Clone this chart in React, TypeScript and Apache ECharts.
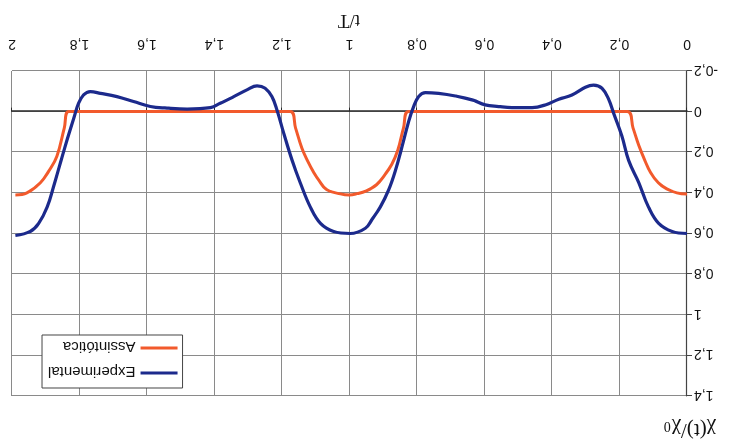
import React, { useEffect, useRef } from "react";
import * as echarts from "echarts";

const xTicks = [0, 0.2, 0.4, 0.6, 0.8, 1, 1.2, 1.4, 1.6, 1.8, 2];
const yTicks = [-0.2, 0, 0.2, 0.4, 0.6, 0.8, 1, 1.2, 1.4];

const expT = [
  0, 0.044, 0.084, 0.114, 0.143, 0.173, 0.193, 0.217, 0.232, 0.252, 0.277, 0.301, 0.341, 0.38, 0.42,
  0.459, 0.519, 0.558, 0.598, 0.637, 0.686, 0.736, 0.775, 0.795, 0.81, 0.825, 0.844, 0.864, 0.884,
  0.909, 0.933, 0.953, 0.998, 1.047, 1.086, 1.116, 1.146, 1.17, 1.195, 1.215, 1.23, 1.25, 1.274,
  1.304, 1.343, 1.383, 1.412, 1.481, 1.541, 1.59, 1.64, 1.689, 1.738, 1.768, 1.788, 1.803, 1.817,
  1.837, 1.857, 1.877, 1.896, 1.921, 1.946, 1.99,
];
const expV = [
  0.6, 0.59, 0.55, 0.47, 0.35, 0.24, 0.12, 0.01, -0.06, -0.115, -0.13, -0.12, -0.082, -0.061, -0.033,
  -0.02, -0.02, -0.025, -0.033, -0.058, -0.077, -0.09, -0.094, -0.074, -0.025, 0.05, 0.17, 0.29, 0.385,
  0.47, 0.53, 0.574, 0.6, 0.59, 0.55, 0.47, 0.35, 0.24, 0.106, -0.008, -0.074, -0.115, -0.127,
  -0.107, -0.074, -0.041, -0.02, -0.012, -0.017, -0.025, -0.05, -0.074, -0.09, -0.098, -0.082, -0.041,
  0.033, 0.14, 0.254, 0.37, 0.47, 0.55, 0.59, 0.61,
];

const asT = [
  0, 0.03, 0.06, 0.085, 0.108, 0.125, 0.143, 0.16, 0.177, 0.825, 0.84, 0.857, 0.875, 0.895, 0.92,
  0.95, 0.98, 1.0, 1.027, 1.067, 1.09, 1.106, 1.125, 1.141, 1.16, 1.175, 1.832, 1.845, 1.867, 1.89,
  1.916, 1.956, 1.99,
];
const asV = [
  0.405, 0.4, 0.38, 0.35, 0.3, 0.24, 0.165, 0.08, 0, 0, 0.08, 0.19, 0.26, 0.31, 0.36,
  0.39, 0.405, 0.41, 0.405, 0.385, 0.34, 0.3, 0.24, 0.18, 0.08, 0, 0, 0.08, 0.22, 0.29,
  0.35, 0.4, 0.41,
];

const seriesNames = ["Experimental", "Assintótica"];
const xName = "t/T";

const fmt = (v: number) => {
  const r = Math.round(v * 10) / 10;
  return String(r).replace(".", ",");
};

export default function App() {
  const ref = useRef<HTMLDivElement>(null);
  useEffect(() => {
    if (!ref.current) return;
    const chart = echarts.init(ref.current, null, { renderer: "svg" });
    const expData = expT.map((t, i) => [t, expV[i]]);
    const asData = asT.map((t, i) => [t, asV[i]]);
    const labelFont = "'Liberation Sans', Arial, sans-serif";
    const serif = "'Liberation Serif', 'DejaVu Serif', serif";
    chart.setOption({
      animation: false,
      backgroundColor: "#ffffff",
      grid: {
        left: 43,
        right: 12,
        top: 49,
        bottom: 71,
        containLabel: false,
        outerBoundsMode: "none",
      },
      legend: {
        data: seriesNames,
        orient: "vertical",
        right: 42,
        top: 57,
        icon: "rect",
        itemWidth: 37,
        itemHeight: 3,
        itemGap: 7,
        padding: [6, 6, 4, 5],
        backgroundColor: "#ffffff",
        borderColor: "#444444",
        borderWidth: 1,
        borderRadius: 0,
        textStyle: {
          fontFamily: labelFont,
          fontSize: 15,
          color: "#111111",
          lineHeight: 18,
        },
      },
      xAxis: [
        {
          type: "value",
          min: xTicks[0],
          max: xTicks[xTicks.length - 1],
          interval: 0.2,
          axisLine: { show: false, onZero: false },
          axisTick: { show: false },
          axisLabel: {
            margin: 19,
            fontFamily: labelFont,
            fontSize: 14,
            color: "#111111",
            formatter: fmt,
          },
          splitLine: { show: true, lineStyle: { color: "#8a8a8a", width: 1 } },
        },
        {
          type: "value",
          min: xTicks[0],
          max: xTicks[xTicks.length - 1],
          interval: 0.2,
          position: "bottom",
          axisLine: { show: true, onZero: true, lineStyle: { color: "#2a2a2a", width: 1.5 } },
          axisTick: { show: true, length: 4, lineStyle: { color: "#2a2a2a" } },
          axisLabel: { show: false },
          splitLine: { show: false },
        },
      ],
      yAxis: {
        type: "value",
        min: yTicks[0],
        max: yTicks[yTicks.length - 1],
        interval: 0.2,
        axisLine: { show: true, onZero: false, lineStyle: { color: "#444444", width: 1.2 } },
        axisTick: { show: true, length: 5, lineStyle: { color: "#444444" } },
        axisLabel: {
          margin: 7,
          fontFamily: labelFont,
          fontSize: 14,
          color: "#111111",
          formatter: fmt,
        },
        splitLine: { show: true, lineStyle: { color: "#8a8a8a", width: 1 } },
      },
      graphic: [
        {
          type: "text",
          x: 14,
          y: 3,
          style: {
            text: "{a|χ(t)/χ}{b|0}",
            rich: {
              a: { fontFamily: serif, fontSize: 21, fill: "#111111" },
              b: { fontFamily: serif, fontSize: 14, fill: "#111111", padding: [8, 0, 0, 1] },
            },
          },
        },
        {
          type: "text",
          x: 381,
          y: 414,
          style: {
            text: xName,
            fontFamily: serif,
            fontSize: 19,
            fill: "#111111",
            align: "center",
          },
        },
      ],
      series: [
        {
          name: seriesNames[1],
          type: "line",
          xAxisIndex: 0,
          data: asData,
          showSymbol: false,
          smooth: 0.4,
          lineStyle: { color: "#f25a2c", width: 3 },
          itemStyle: { color: "#f25a2c" },
        },
        {
          name: seriesNames[0],
          type: "line",
          xAxisIndex: 0,
          data: expData,
          showSymbol: false,
          smooth: 0.4,
          lineStyle: { color: "#1c2a8c", width: 3.2 },
          itemStyle: { color: "#1c2a8c" },
        },
      ],
    });
    return () => chart.dispose();
  }, []);
  return (
    <div
      ref={ref}
      style={{
        position: "fixed",
        left: 0,
        top: 0,
        width: 730,
        height: 445,
        transform: "rotate(180deg)",
        background: "#ffffff",
      }}
    />
  );
}
